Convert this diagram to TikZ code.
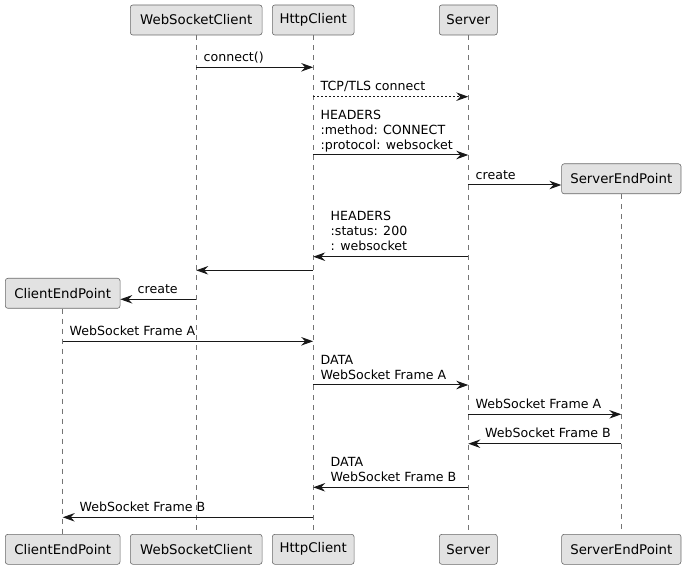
\documentclass[tikz,border=0pt]{standalone}
\usepackage{fontspec}
\setmainfont{DejaVu Sans}
\usetikzlibrary{arrows.meta}
\definecolor{boxfill}{HTML}{E2E2E2}
\definecolor{ink}{HTML}{181818}
\begin{document}
\begin{tikzpicture}[x=1pt,y=-1pt,
 part/.style={draw=ink!65, line width=0.6pt, fill=boxfill, rounded corners=2.5pt, minimum height=30pt, inner sep=0pt, font=\fontsize{13.3}{15}\selectfont, text=black},
 life/.style={draw=ink!60, line width=0.7pt, dash pattern=on 5pt off 5pt},
 msg/.style={draw=ink, line width=1pt, -{Stealth[length=12pt,width=8.5pt,inset=4pt]}},
 async/.style={msg, dash pattern=on 2pt off 2pt},
 lbl/.style={anchor=south west, inner sep=0pt, align=left, font=\fontsize{12.6}{15}\selectfont, text=black}
]
\useasboundingbox (0,0) rectangle (686,569);
% participants (top)
\node[part, minimum width=131.7pt] (wsc) at (196.2,20) {WebSocketClient};
\node[part, minimum width=81.7pt] (hc) at (313.2,20) {HttpClient};
\node[part, minimum width=58pt] (srv) at (468.3,20) {Server};
\node[part, minimum width=119.3pt] (sep) at (621.3,178.8) {ServerEndPoint};
\node[part, minimum width=114.7pt] (cep) at (62.7,293.3) {ClientEndPoint};
% participants (bottom)
\node[part, minimum width=114.7pt] (cepb) at (62.7,549.3) {ClientEndPoint};
\node[part, minimum width=131.7pt] (wscb) at (196.2,549.3) {WebSocketClient};
\node[part, minimum width=81.7pt] (hcb) at (313.2,549.3) {HttpClient};
\node[part, minimum width=58pt] (srvb) at (468.3,549.3) {Server};
\node[part, minimum width=119.3pt] (sepb) at (621.3,549.3) {ServerEndPoint};
% lifelines
\draw[life] (wsc.south) -- (wscb.north);
\draw[life] (hc.south) -- (hcb.north);
\draw[life] (srv.south) -- (srvb.north);
\draw[life] (sep.south) -- (sepb.north);
\draw[life] (cep.south) -- (cepb.north);
% messages
\draw[msg] (wsc.south |- 0,67.3) -- (hc.south |- 0,67.3);
\node[lbl] (l1) at (203.5,66.3) {connect()\strut};
\draw[async] (hc.south |- 0,96.7) -- (srv.south |- 0,96.7);
\node[lbl] (l2) at (320.5,95.7) {TCP/TLS connect\strut};
\draw[msg] (hc.south |- 0,155) -- (srv.south |- 0,155);
\node[lbl] (l3) at (320.5,154) {HEADERS\\:method: CONNECT\\:protocol: websocket\strut};
\draw[msg] (srv.south |- 0,185) -- (sep.west |- 0,185);
\node[lbl] (l4) at (475.5,184) {create\strut};
\draw[msg] (srv.south |- 0,256.7) -- (hc.south |- 0,256.7);
\node[lbl] (l5) at (330.5,255.7) {HEADERS\\:status: 200\\: websocket\strut};
\draw[msg] (hc.south |- 0,270.3) -- (wsc.south |- 0,270.3);
\draw[msg] (wsc.south |- 0,299.3) -- (cep.east |- 0,299.3);
\node[lbl] (l7) at (137.5,298.3) {create\strut};
\draw[msg] (cep.south |- 0,341.3) -- (hc.south |- 0,341.3);
\node[lbl] (l8) at (69.5,340.3) {WebSocket Frame A\strut};
\draw[msg] (hc.south |- 0,385) -- (srv.south |- 0,385);
\node[lbl] (l9) at (320.5,384) {DATA\\WebSocket Frame A\strut};
\draw[msg] (srv.south |- 0,414.3) -- (sep.south |- 0,414.3);
\node[lbl] (l10) at (475.5,413.3) {WebSocket Frame A\strut};
\draw[msg] (sep.south |- 0,443.7) -- (srv.south |- 0,443.7);
\node[lbl] (l11) at (485,442.7) {WebSocket Frame B\strut};
\draw[msg] (srv.south |- 0,487.3) -- (hc.south |- 0,487.3);
\node[lbl] (l12) at (330.5,486.3) {DATA\\WebSocket Frame B\strut};
\draw[msg] (hc.south |- 0,517.3) -- (cep.south |- 0,517.3);
\node[lbl] (l13) at (79.5,516.3) {WebSocket Frame B\strut};
\end{tikzpicture}
\end{document}
